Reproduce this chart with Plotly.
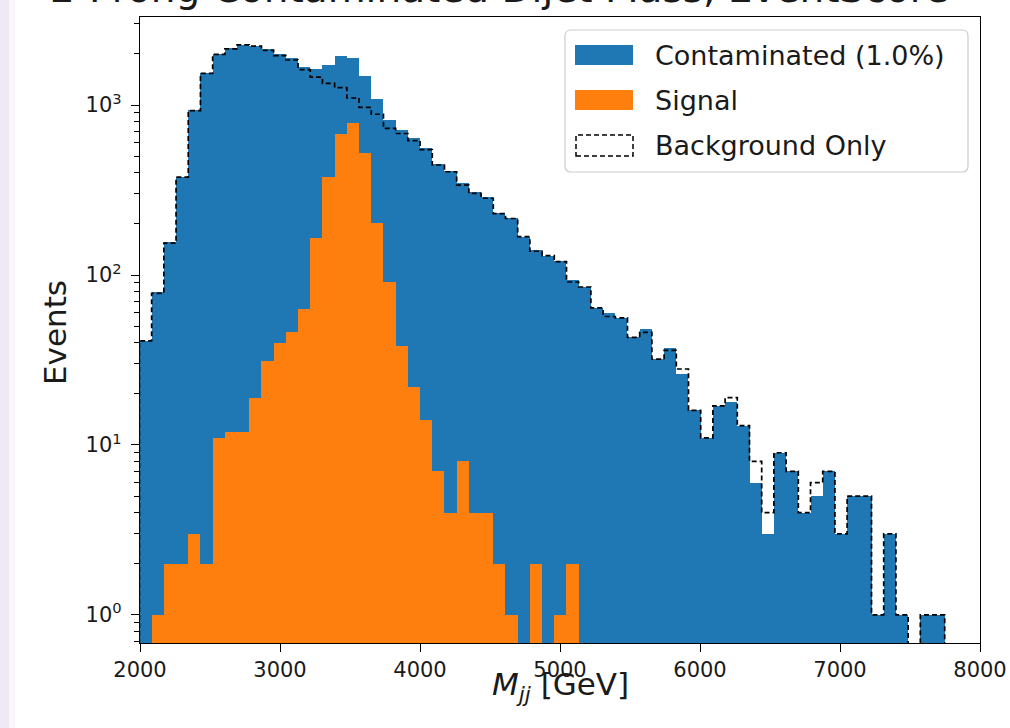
import numpy as np
import plotly.graph_objects as go

# ---------------- data ----------------
BIN_LO = 1996.0
BIN_HI = 7748.0
N_BINS = 66

contaminated = [41, 79, 156, 379, 930, 1536, 1995, 2154, 2270, 2240,
                2127, 1995, 1887, 1680, 1625, 1718, 1939, 1887, 1489, 1086,
                820, 718, 640, 560, 451, 409, 346, 306, 287, 232,
                216, 168, 140, 130, 121, 93, 85, 64, 60, 56,
                43, 48, 32, 37, 26, 16, 11, 17, 18, 13,
                6, 3, 9, 7, 4, 5, 7, 3, 5, 5,
                1, 3, 1, 0, 1, 1]

signal = [0, 1, 2, 2, 3, 2, 11, 12, 12, 19,
          31, 40, 46, 63, 166, 379, 672, 787, 520, 203,
          91, 38, 22, 14, 7, 4, 8, 4, 4, 2,
          1, 0, 2, 0, 1, 2, 0, 0, 0, 0,
          0, 0, 0, 0, 0, 0, 0, 0, 0, 0,
          0, 0, 0, 0, 0, 0, 0, 0, 0, 0,
          0, 0, 0, 0, 0, 0]

background = [41, 78, 154, 377, 927, 1534, 1984, 2142, 2258, 2221,
              2096, 1955, 1841, 1617, 1460, 1340, 1267, 1100, 969, 883,
              729, 680, 618, 546, 444, 405, 338, 302, 283, 230,
              215, 168, 138, 130, 120, 91, 85, 64, 57, 56,
              43, 46, 32, 36, 28, 16, 11, 17, 19, 13,
              8, 4, 9, 7, 4, 6, 7, 3, 5, 5,
              1, 3, 1, 0, 1, 1]

labels = ["Contaminated (1.0%)", "Signal", "Background Only"]
x_ticks = [2000, 3000, 4000, 5000, 6000, 7000, 8000]
y_ticks = [1, 10, 100, 1000]
y_ticktext = ["10<sup>0</sup>", "10<sup>1</sup>", "10<sup>2</sup>", "10<sup>3</sup>"]
title_text = "2-Prong Contaminated Dijet Mass, EventScore > 0.5"

# ---------------- styling / layout ----------------
W, H = 1010, 728
L, R, T, B = 140, 30, 17, 85
PW, PH = W - L - R, H - T - B
BLUE = "#1f77b4"
ORANGE = "#ff7f0e"
FONT = "DejaVu Sans"
TXT = "#1a1a1a"


def px_x(px):
    return (px - L) / PW


def px_y(py):
    return (H - B - py) / PH


edges = np.linspace(BIN_LO, BIN_HI, N_BINS + 1)
centers = 0.5 * (edges[:-1] + edges[1:])
width = edges[1] - edges[0]


def nz(vals):
    return [v if v > 0 else None for v in vals]


fig = go.Figure()
fig.add_trace(go.Bar(x=centers, y=nz(contaminated), width=width,
                     marker=dict(color=BLUE, line=dict(width=0)),
                     name=labels[0], showlegend=False))
fig.add_trace(go.Bar(x=centers, y=nz(signal), width=width,
                     marker=dict(color=ORANGE, line=dict(width=0)),
                     name=labels[1], showlegend=False))

FLOOR = 0.05
step_x = [edges[0]] + list(edges) + [edges[-1]]
step_y = ([FLOOR] + [v if v > 0 else FLOOR for v in background] +
          [background[-1] if background[-1] > 0 else FLOOR] + [FLOOR])
fig.add_trace(go.Scatter(x=step_x, y=step_y, mode="lines", line_shape="hv",
                         line=dict(color="black", width=1.7, dash="5px,3px"),
                         name=labels[2], showlegend=False, hoverinfo="skip"))

minor_vals = []
for d in [-1, 0, 1, 2, 3]:
    for m in range(2, 10):
        minor_vals.append(m * 10 ** d)

ylo, yhi = np.log10(0.684), np.log10(3296)

fig.update_layout(
    width=W, height=H,
    margin=dict(l=L, r=R, t=T, b=B, autoexpand=False),
    paper_bgcolor="white", plot_bgcolor="white",
    barmode="overlay", bargap=0,
    showlegend=False,
    font=dict(family=FONT, color=TXT),
    xaxis=dict(range=[2000, 8000], tickmode="array", tickvals=x_ticks,
               ticks="outside", ticklen=8, tickwidth=1.3, tickcolor="black",
               tickfont=dict(size=21, family=FONT, color=TXT),
               showline=True, linecolor="black", linewidth=1.3, mirror=True,
               showgrid=False, zeroline=False, automargin=False),
    yaxis=dict(type="log", range=[ylo, yhi], tickmode="array",
               tickvals=y_ticks, ticktext=y_ticktext,
               ticks="outside", ticklen=8, tickwidth=1.3, tickcolor="black",
               ticklabelstandoff=5,
               tickfont=dict(size=21, family=FONT, color=TXT),
               minor=dict(tickmode="array", tickvals=minor_vals, ticks="outside",
                          ticklen=4.5, tickwidth=1.0, tickcolor="black"),
               showline=True, linecolor="black", linewidth=1.3, mirror=True,
               showgrid=False, zeroline=False, automargin=False),
)

shapes = []
# notebook side strip
shapes.append(dict(type="rect", xref="paper", yref="paper",
                   x0=px_x(0), x1=px_x(9), y0=px_y(H), y1=px_y(0),
                   fillcolor="#efe9f6", line=dict(width=0), layer="below"))
shapes.append(dict(type="rect", xref="paper", yref="paper",
                   x0=px_x(9), x1=px_x(15), y0=px_y(H), y1=px_y(0),
                   fillcolor="#f8f5fb", line=dict(width=0), layer="below"))

# legend frame (rounded)
fx0, fx1, fy0, fy1 = px_x(565), px_x(968), px_y(172), px_y(30)
rx, ry = 6 / PW, 6 / PH
path = (f"M {fx0+rx},{fy0} L {fx1-rx},{fy0} Q {fx1},{fy0} {fx1},{fy0+ry} "
        f"L {fx1},{fy1-ry} Q {fx1},{fy1} {fx1-rx},{fy1} L {fx0+rx},{fy1} "
        f"Q {fx0},{fy1} {fx0},{fy1-ry} L {fx0},{fy0+ry} Q {fx0},{fy0} {fx0+rx},{fy0} Z")
shapes.append(dict(type="path", xref="paper", yref="paper", path=path,
                   fillcolor="rgba(255,255,255,0.8)",
                   line=dict(color="#cccccc", width=1.2), layer="above"))
# legend patches
shapes.append(dict(type="rect", xref="paper", yref="paper",
                   x0=px_x(575), x1=px_x(633), y0=px_y(65), y1=px_y(45),
                   fillcolor=BLUE, line=dict(width=0), layer="above"))
shapes.append(dict(type="rect", xref="paper", yref="paper",
                   x0=px_x(575), x1=px_x(633), y0=px_y(110), y1=px_y(90),
                   fillcolor=ORANGE, line=dict(width=0), layer="above"))
shapes.append(dict(type="rect", xref="paper", yref="paper",
                   x0=px_x(576), x1=px_x(633), y0=px_y(156), y1=px_y(135),
                   fillcolor="rgba(0,0,0,0)",
                   line=dict(color="black", width=1.5, dash="5px,3px"), layer="above"))

annotations = []
for lab, cy in zip(labels, [55, 100, 145]):
    annotations.append(dict(text=lab, xref="paper", yref="paper",
                            x=px_x(653), y=px_y(cy), xanchor="left", yanchor="middle",
                            showarrow=False, font=dict(size=27, family=FONT, color=TXT)))
# axis titles
annotations.append(dict(text="Events", xref="paper", yref="paper",
                        x=px_x(55), y=px_y(333), xanchor="center", yanchor="middle",
                        textangle=-90, showarrow=False,
                        font=dict(size=31, family=FONT, color=TXT)))
annotations.append(dict(text="<i>M</i><sub><i>jj</i></sub> [GeV]", xref="paper", yref="paper",
                        x=px_x(560), y=px_y(686), xanchor="center", yanchor="middle",
                        showarrow=False, font=dict(size=31, family=FONT, color=TXT)))
# title (cut off at the top in the reference)
annotations.append(dict(text=title_text, xref="paper", yref="paper",
                        x=px_x(48), y=px_y(13), xanchor="left", yanchor="bottom",
                        showarrow=False, font=dict(size=39, family=FONT, color=TXT)))

fig.update_layout(shapes=shapes, annotations=annotations)
fig.write_html("out.html",
               config={"displayModeBar": False},
               post_script="document.body.style.margin='0';document.body.style.overflow='hidden';")
